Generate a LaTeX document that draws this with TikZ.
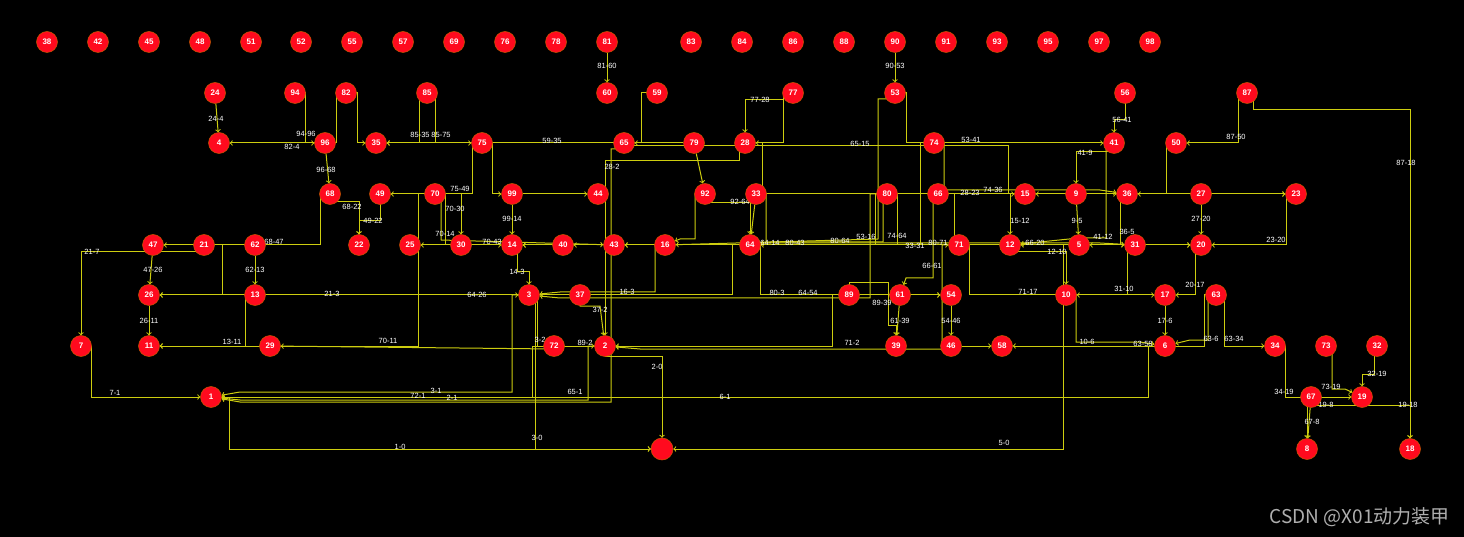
\documentclass[tikz,border=0pt]{standalone}
\usepackage{fontspec}
\setmainfont{Liberation Sans}
\newfontfamily\cjk{Noto Sans CJK SC}
\usetikzlibrary{arrows}
\pgfdeclarelayer{bg}
\pgfdeclarelayer{edges}
\pgfdeclarelayer{labels}
\pgfsetlayers{bg,edges,labels,main}
\definecolor{vred}{RGB}{255,10,30}
\definecolor{vrim}{RGB}{200,90,0}
\definecolor{ecol}{RGB}{205,205,15}
\definecolor{wmgray}{RGB}{175,175,175}
\tikzset{
  vert/.style={circle,fill=vred,draw=vrim,line width=0.5pt,minimum size=21pt,inner sep=0pt,
    text=white,font=\fontsize{8}{8}\selectfont\bfseries},
  edge/.style={->,>=to,draw=ecol,line width=1pt},
  elabel/.style={text=white,font=\fontsize{7.5}{8}\selectfont,inner sep=0pt}
}

\begin{document}
\begin{tikzpicture}[x=1pt,y=-1pt]
\useasboundingbox (0,0) rectangle (1464,537);
\begin{pgfonlayer}{bg}
  \fill[black] (0,0) rectangle (1464,537); % canvas
\end{pgfonlayer}

% vertices, row by row
\foreach \n/\x in {38/47,42/98,45/149,48/200,51/251,52/301,55/352,57/403,69/454,76/505,78/556,81/607,83/691,84/742,86/793,88/844,90/895,91/946,93/997,95/1048,97/1099,98/1150}
  \node[vert] (n\n) at (\x,42) {\n};
\foreach \n/\x in {24/215,94/295,82/346,85/427,60/607,59/657,77/793,53/895,56/1125,87/1247}
  \node[vert] (n\n) at (\x,93) {\n};
\foreach \n/\x in {4/219,96/325,35/376,75/482,65/624,79/694,28/745,74/934,41/1114,50/1176}
  \node[vert] (n\n) at (\x,143) {\n};
\foreach \n/\x in {68/330,49/380,70/435,99/512,44/598,92/705,33/756,80/887,66/938,15/1025,9/1076,36/1127,27/1201,23/1296}
  \node[vert] (n\n) at (\x,194) {\n};
\foreach \n/\x in {47/153,21/204,62/255,22/359,25/410,30/461,14/512,40/563,43/614,16/665,64/750,71/959,12/1010,5/1079,31/1135,20/1201}
  \node[vert] (n\n) at (\x,245) {\n};
\foreach \n/\x in {26/149,13/255,3/529,37/580,89/849,61/900,54/951,10/1066,17/1165,63/1216}
  \node[vert] (n\n) at (\x,295) {\n};
\foreach \n/\x in {7/81,11/149,29/270,72/554,2/605,39/896,46/951,58/1002,6/1165,34/1275,73/1326,32/1377}
  \node[vert] (n\n) at (\x,346) {\n};
\foreach \n/\x in {1/211,67/1311,19/1362}
  \node[vert] (n\n) at (\x,397) {\n};
\foreach \n/\x in {8/1307,18/1410}
  \node[vert] (n\n) at (\x,449) {\n};
\node[vert,minimum size=22pt] (n0) at (662,449) {}; % sink

% connectors
\begin{pgfonlayer}{edges}
  \draw[edge] (n81) -- (n60);
  \draw[edge] (n90) -- (n53);
  \draw[edge] (n24) -- (n4);
  \draw[edge] (n94.center) -- ++(10,0) |- (n96);
  \draw[edge] (n82.center) -- ++(-10,0) |- (n4);
  \draw[edge] (n82.center) -- ++(11,0) |- (n35);
  \draw[edge] (n85.center) -- ++(-8,0) |- (n35);
  \draw[edge] (n85.center) -- ++(8,0) |- (n75);
  \draw[edge] (n59.center) -| (641,143) -- (n35);
  \draw[edge] (n79) -- (n65);
  \draw[edge] (n65.center) -- ++(0,3) -| (1008,194) -- (n15);
  \draw[edge] (n77.center) -- ++(-10,0) |- (745,100) -- (n28);
  \draw[edge] (n77.center) -- ++(-10,0) |- (n28);
  \draw[edge] (n53.center) -- ++(11,0) |- (n41);
  \draw[edge] (n56.center) |- (1114,120) -- (n41);
  \draw[edge] (n87.center) -- ++(-9,0) |- (n50);
  \draw[edge] (n87.center) -- ++(6,0) |- (1410,110) -- (n18);
  \draw[edge] (n41.center) -- ++(0,9) -| (n9);
  \draw[edge] (n96) -- (n68);
  \draw[edge] (n28.center) -- ++(-6,0) |- (605,161) -- (n2);
  \draw[edge] (n75.center) -- ++(-10,0) |- (n49);
  \draw[edge] (n75.center) -- ++(10,0) |- (n99);
  \draw[edge] (n99) -- (n44);
  \draw[edge] (n99) -- (n14);
  \draw[edge] (n70) -| (n30);
  \draw[edge] (n70.center) -- ++(10,0) |- (n14);
  \draw[edge] (n70.center) -- ++(6,0) -- ++(0,46) -- (n43);
  \draw[edge] (n70.center) -- ++(-17,0) |- (n11);
  \draw[edge] (n72.center) -- ++(0,3) -- (n29);
  \draw[edge] (n68.center) -- ++(0,8) -| (n22);
  \draw[edge] (n49.center) -- ++(0,27) -| (n22);
  \draw[edge] (n68.center) -- ++(-10,0) |- (n47);
  \draw[edge] (n21.center) -- ++(0,7) -| (n7);
  \draw[edge] (n21.center) -- ++(18,0) |- (n26);
  \draw[edge] (n21.center) -- ++(18,0) |- (n3);
  \draw[edge] (n47) -- (n26);
  \draw[edge] (n62) -- (n13);
  \draw[edge] (n26) -- (n11);
  \draw[edge] (n13.center) -- ++(-10,0) |- (n11);
  \draw[edge] (n7.center) -- ++(10,0) |- (n1);
  \draw[edge] (n1.center) -- ++(18,0) |- (n0);
  \draw[edge] (n14.center) -- ++(5,0) |- (529,272) -- (n3);
  \draw[edge] (n64.center) -- ++(-18,0) |- (n26);
  \draw[edge] (n16.center) -- ++(-10,0) |- (560,292) -- (n3);
  \draw[edge] (n80.center) -- ++(-17,0) |- (560,298) -- (n3);
  \draw[edge] (n64.center) -- ++(10,0) |- (n54);
  \draw[edge] (n37.center) |- (600,306) -- (n2);
  \draw[edge] (n3.center) -- ++(8,0) |- (n2);
  \draw[edge] (n3.center) -- ++(6,0) |- (n0);
  \draw[edge] (n3.center) -- ++(-17,0) |- (240,392) -- (n1);
  \draw[edge] (n72.center) -- ++(-22,0) |- (n1);
  \draw[edge] (n2.center) -- ++(-17,0) |- (240,400) -- (n1);
  \draw[edge] (n65.center) -- ++(0,6) -| (611,402) -- (240,402) -- (n1);
  \draw[edge] (n6.center) -- ++(-17,0) |- (n1);
  \draw[edge] (n89.center) -- ++(-17,0) |- (n2);
  \draw[edge] (n71.center) -- ++(-17,0) |- (640,349) -- (n2);
  \draw[edge] (n2.center) -- ++(0,10) -| (n0);
  \draw[edge] (n5.center) -- ++(-16,0) |- (n0);
  \draw[edge] (n66.center) -- ++(-5,0) |- (906,278) -- (n61);
  \draw[edge] (n61) -- (n39);
  \draw[edge] (n89.center) -- ++(0,-12) -| (888,325) -| (n39);
  \draw[edge] (n54) -- (n46);
  \draw[edge] (n46) -- (n58);
  \draw[edge] (n61) -- (n54);
  \draw[edge] (n63.center) -- ++(-12,0) |- (n58);
  \draw[edge] (n63.center) -- ++(-8,0) |- (1190,340) -- (n6);
  \draw[edge] (n63.center) -- ++(8,0) |- (n34);
  \draw[edge] (n17) -- (n6);
  \draw[edge] (n10.center) -- ++(10,0) |- (1140,342) -- (n6);
  \draw[edge] (n34.center) -- ++(10,0) |- (n19);
  \draw[edge] (n73.center) -- ++(6,0) |- (1345,389) -- (n19);
  \draw[edge] (n32.center) -- ++(-3,0) |- (1362,374) -- (n19);
  \draw[edge] (n19.center) -- ++(0,8) -| (n18);
  \draw[edge] (n19.center) -- ++(0,8) -| (n8);
  \draw[edge] (n67) -- (n8);
  \draw[edge] (n27) -- (n20);
  \draw[edge] (n27) -- (n23);
  \draw[edge] (n23.center) -- ++(-10,0) |- (n20);
  \draw[edge] (n20.center) -- ++(-6,0) |- (n17);
  \draw[edge] (n31) -- (n20);
  \draw[edge] (n5) -- (n31);
  \draw[edge] (n31.center) -- ++(-8,0) |- (n10);
  \draw[edge] (n71.center) -- ++(10,0) |- (n17);
  \draw[edge] (n12.center) -- ++(0,7) -| (n10);
  \draw[edge] (n15.center) -| (n12);
  \draw[edge] (n9) -- (n5);
  \draw[edge] (n9) -- (n15);
  \draw[edge] (n41.center) -- ++(-8,0) |- (1079,238) -- (n12);
  \draw[edge] (n36.center) -- ++(-7,0) |- (n5);
  \draw[edge] (n9) -- (n36);
  \draw[edge] (n28.center) -- ++(17,0) |- (n23);
  \draw[edge] (n74.center) -- ++(10,0) |- (1100,190) -- (n36);
  \draw[edge] (n50.center) -- ++(-10,0) |- (n36);
  \draw[edge] (n79) -- (n92);
  \draw[edge] (n92.center) -- ++(0,9) -| (n64);
  \draw[edge] (n33) -- (n64);
  \draw[edge] (n33.center) -- ++(10,0) |- (1100,243) -- (n31);
  \draw[edge] (n53.center) -- ++(0,6) -| (878,239) -- (n16);
  \draw[edge] (n74.center) -- ++(-14,0) |- (n64);
  \draw[edge] (n80.center) -- ++(-4,0) |- (770,242) -- (n64);
  \draw[edge] (n64) -- (n14);
  \draw[edge] (n80.center) -- ++(-12,0) |- (n43);
  \draw[edge] (n43) -- (n40);
  \draw[edge] (n40) -- (n14);
  \draw[edge] (n16) -- (n43);
  \draw[edge] (n92.center) -- ++(-10,0) |- (680,239) -- (n16);
  \draw[edge] (n30) -- (n25);
  \draw[edge] (n66.center) -- ++(16,0) |- (n20);
  \draw[edge] (n5) -- (n12);
  \draw[edge] (n80.center) -- ++(10,0) |- (n71);
\end{pgfonlayer}

% connector labels
\begin{pgfonlayer}{labels}
\foreach \t/\x/\y [count=\i] in {81-60/607/66,90-53/895/66,24-4/216/119,94-96/306/134,82-4/292/147,
  85-35/420/135,85-75/441/135,59-35/552/141,65-15/860/144,77-28/760/100,53-41/971/140,
  56-41/1122/120,87-50/1236/137,87-18/1406/163,41-9/1085/153,96-68/326/170,28-2/612/167,
  75-49/460/189,92-64/740/202,28-23/970/193,74-36/993/190,68-22/352/207,49-22/373/221,
  70-30/455/209,99-14/512/219,15-12/1020/221,9-5/1077/221,27-20/1201/219,70-14/445/234,
  70-43/492/242,21-7/92/252,68-47/274/242,47-26/153/270,62-13/255/270,14-3/517/272,
  21-3/332/294,64-26/477/295,16-3/627/292,80-3/777/293,64-54/808/293,66-61/932/266,
  71-17/1028/292,31-10/1124/289,20-17/1195/285,12-10/1057/252,66-20/1035/243,41-12/1103/237,
  36-5/1127/232,23-20/1276/240,80-64/840/241,53-16/866/237,74-64/897/236,33-31/915/246,
  64-14/770/243,80-43/795/243,80-71/938/243,13-11/232/342,26-11/149/321,70-11/388/341,
  3-2/540/340,37-2/600/310,89-2/585/343,71-2/852/343,89-39/882/303,61-39/900/321,
  54-46/951/321,17-6/1165/321,10-6/1087/342,63-58/1143/344,63-6/1211/339,63-34/1234/339,
  2-0/657/367,65-1/575/392,72-1/418/396,3-1/436/391,2-1/452/398,6-1/725/397,7-1/115/393,
  3-0/537/438,1-0/400/447,5-0/1004/443,34-19/1284/392,73-19/1331/387,32-19/1377/374,
  19-18/1408/405,67-8/1312/422,19-8/1326/405}
  \node[elabel] (lab\i) at (\x,\y) {\t};
\end{pgfonlayer}

\node[anchor=east,text=wmgray,font=\cjk\fontsize{19}{19}\selectfont,inner sep=0pt] (wm) at (1450,517) {CSDN @X01动力装甲};
\end{tikzpicture}
\end{document}
